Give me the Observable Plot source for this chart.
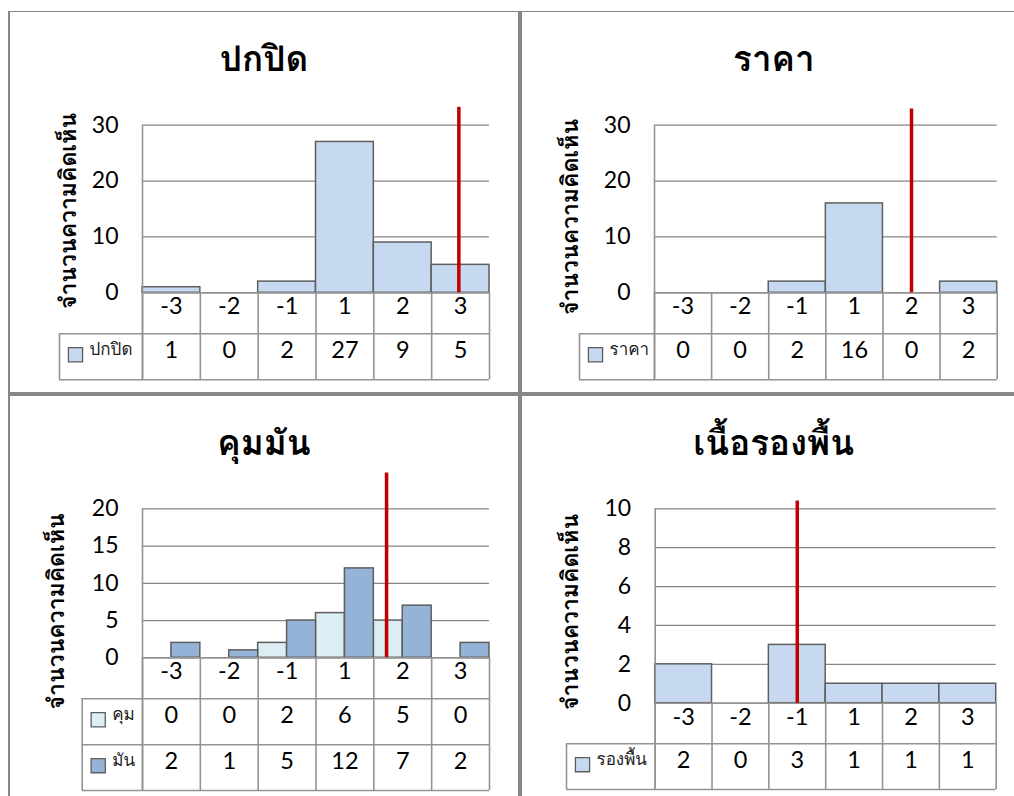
<!DOCTYPE html>
<html>
<head>
<meta charset="utf-8">
<script src="https://cdn.jsdelivr.net/npm/d3@7"></script>
<script src="https://cdn.jsdelivr.net/npm/@observablehq/plot@0.6"></script>
<style>
  html, body { margin: 0; padding: 0; background: #fff; }
  #page { position: relative; width: 1014px; height: 796px; overflow: hidden; background: #fff; }
  .line { position: absolute; background: #878787; }
  .panel { position: absolute; }
  .panel svg { overflow: visible; }
</style>
</head>
<body>
<div id="page">
  <div class="line" style="left:8px;top:11px;width:1006px;height:1px"></div>
  <div class="line" style="left:8px;top:11px;width:2px;height:785px"></div>
  <div class="line" style="left:518px;top:12px;width:4px;height:784px"></div>
  <div class="line" style="left:8px;top:392px;width:1006px;height:4px"></div>
</div>
<script>
// Response categories shared by all four panels
const categories = ["-3", "-2", "-1", "1", "2", "3"];

// Counts of responses per category
const coverValues = [1, 0, 2, 27, 9, 5];        // ปกปิด
const priceValues = [0, 0, 2, 16, 0, 2];        // ราคา
const controlValues = [0, 0, 2, 6, 5, 0];       // คุม
const oilValues = [2, 1, 5, 12, 7, 2];          // มัน
const foundationValues = [2, 0, 3, 1, 1, 1];    // รองพื้น

// Panel titles and series names
const titles = ["ปกปิด", "ราคา", "คุมมัน", "เนื้อรองพื้น"];
const seriesNames = ["ปกปิด", "ราคา", "คุม", "มัน", "รองพื้น"];
const yTitle = "จำนวนความคิดเห็น";

// Y-axis tick values
const ticksCover = [0, 10, 20, 30];
const ticksPrice = [0, 10, 20, 30];
const ticksOil = [0, 5, 10, 15, 20];
const ticksFoundation = [0, 2, 4, 6, 8, 10];

// Reference marker per panel: position along the category slots and its height
const markerPositions = [4.97, 4, 3.72, 2];
const markerTops = [33.2, 32.9, 24.8, 10.4];

const FONT = "Lato, Tahoma, Loma, Waree, Garuda, 'Noto Sans Thai Looped', 'Noto Sans Thai', 'Noto Sans', sans-serif";
const GRID = "#878787";
const TABLE = "#939393";
const BAR_STROKE = "#5e5e5e";

function panel(cfg) {
  const n = categories.length;
  const idx = d3.range(n);
  const plotH = cfg.height - cfg.m.t - cfg.m.b;
  const tableH = cfg.hdrH + d3.sum(cfg.rowHs);

  const marks = [];
  // horizontal gridlines
  marks.push(Plot.gridY(cfg.ticks, {stroke: GRID, strokeOpacity: 1, strokeWidth: 1.3}));

  // bars
  for (const s of cfg.series) {
    marks.push(Plot.rect(idx.filter(i => s.values[i] > 0), {
      x1: i => i + s.from,
      x2: i => i + s.to,
      y1: 0,
      y2: i => s.values[i],
      fill: s.fill,
      stroke: BAR_STROKE,
      strokeWidth: 1.5
    }));
  }

  // value axis line down the left edge, continuing through the table
  marks.push(Plot.ruleX([-0.5], {stroke: TABLE, strokeWidth: 1.6, insetBottom: -tableH}));
  // table column borders
  marks.push(Plot.ruleX(d3.range(n + 1).map(i => i - 0.5), {
    stroke: TABLE, strokeWidth: 1.6, insetTop: plotH, insetBottom: -tableH
  }));
  // table row borders
  marks.push(Plot.ruleY([0], {stroke: TABLE, strokeWidth: 1.6}));
  let off = cfg.hdrH;
  const rowTops = [];
  for (const h of cfg.rowHs) {
    rowTops.push(off);
    marks.push(Plot.ruleY([0], {stroke: TABLE, strokeWidth: 1.6, dy: off, insetLeft: -cfg.legendW}));
    off += h;
  }
  marks.push(Plot.ruleY([0], {stroke: TABLE, strokeWidth: 1.6, dy: off, insetLeft: -cfg.legendW}));
  // legend column left border
  marks.push(Plot.ruleX([-0.5], {
    stroke: TABLE, strokeWidth: 1.6, dx: -cfg.legendW, insetTop: plotH + cfg.hdrH, insetBottom: -tableH
  }));

  // category header row
  marks.push(Plot.text(categories, {
    x: (d, i) => i, frameAnchor: "bottom", dy: cfg.hdrH / 2 + 1, fontSize: 23.5
  }));

  // data rows with legend keys
  cfg.series.forEach((s, k) => {
    const cy = rowTops[k] + cfg.rowHs[k] / 2 + 1;
    marks.push(Plot.text(s.values, {
      x: (d, i) => i, text: d => String(d), frameAnchor: "bottom", dy: cy, fontSize: 23.5
    }));
    marks.push(Plot.dot([s.name], {
      x: -0.5, frameAnchor: "bottom", dx: -cfg.legendW + 16, dy: cy - 3,
      symbol: "square", r: 8, fill: s.fill, stroke: BAR_STROKE, strokeWidth: 1.3
    }));
    marks.push(Plot.text([s.name], {
      x: -0.5, frameAnchor: "bottom", textAnchor: "start", dx: -cfg.legendW + 30, dy: cy - 3,
      fontSize: 17, fill: "#222"
    }));
  });

  // reference marker
  marks.push(Plot.ruleX([cfg.marker], {y1: 0, y2: cfg.markerTop, stroke: "#C00000", strokeWidth: 3.5}));

  // y tick labels
  marks.push(Plot.axisY(cfg.ticks, {tickSize: 0, tickPadding: 24, fontSize: 23, label: null}));

  // y-axis title
  marks.push(Plot.text([yTitle], {
    frameAnchor: "left", textAnchor: "middle", rotate: -90, dx: cfg.yTitle[0], dy: cfg.yTitle[1],
    fontSize: 23, fontWeight: "bold"
  }));

  // chart title
  marks.push(Plot.text([cfg.title], {
    frameAnchor: "top", lineAnchor: "bottom", dx: -52, dy: -54, fontSize: 35, fontWeight: "bold"
  }));

  const svg = Plot.plot({
    width: cfg.width,
    height: cfg.height,
    marginLeft: cfg.m.l,
    marginRight: cfg.m.r,
    marginTop: cfg.m.t,
    marginBottom: cfg.m.b,
    x: {type: "linear", domain: [-0.5, n - 0.5], axis: null},
    y: {domain: cfg.yDomain, label: null},
    style: {fontFamily: FONT, color: "#000", background: "transparent", overflow: "visible"},
    marks
  });
  const wrap = document.createElement("div");
  wrap.className = "panel";
  wrap.style.left = cfg.left + "px";
  wrap.style.top = cfg.top + "px";
  wrap.appendChild(svg);
  document.getElementById("page").appendChild(wrap);
}

const lightBlue = "#C6D9F1";

panel({
  left: 10, top: 12, width: 508, height: 380,
  m: {l: 132, r: 29, t: 112.7, b: 99.7},
  legendW: 83, hdrH: 41, rowHs: [46],
  yDomain: [0, 30], ticks: ticksCover,
  series: [{name: seriesNames[0], values: coverValues, fill: lightBlue, from: -0.5, to: 0.5}],
  title: titles[0], yTitle: [-74, 2],
  marker: markerPositions[0], markerTop: markerTops[0]
});

panel({
  left: 522, top: 12, width: 492, height: 380,
  m: {l: 132, r: 17.3, t: 112.7, b: 99.7},
  legendW: 75, hdrH: 41, rowHs: [46],
  yDomain: [0, 30], ticks: ticksPrice,
  series: [{name: seriesNames[1], values: priceValues, fill: lightBlue, from: -0.5, to: 0.5}],
  title: titles[1], yTitle: [-84, 8],
  marker: markerPositions[1], markerTop: markerTops[1]
});

panel({
  left: 10, top: 396, width: 508, height: 400,
  m: {l: 132, r: 29, t: 112.3, b: 138.7},
  legendW: 60.3, hdrH: 41, rowHs: [46, 45.7],
  yDomain: [0, 20], ticks: ticksOil,
  series: [
    {name: seriesNames[2], values: controlValues, fill: "#DBEEF4", from: -0.5, to: 0},
    {name: seriesNames[3], values: oilValues, fill: "#95B3D7", from: 0, to: 0.5}
  ],
  title: titles[2], yTitle: [-86, 28],
  marker: markerPositions[2], markerTop: markerTops[2]
});

panel({
  left: 522, top: 396, width: 492, height: 400,
  m: {l: 132.7, r: 18.3, t: 112.3, b: 93.3},
  legendW: 88.7, hdrH: 40.6, rowHs: [45.7],
  yDomain: [0, 10], ticks: ticksFoundation,
  series: [{name: seriesNames[4], values: foundationValues, fill: lightBlue, from: -0.5, to: 0.5}],
  title: titles[3], yTitle: [-85, 6],
  marker: markerPositions[3], markerTop: markerTops[3]
});
</script>
</body>
</html>
